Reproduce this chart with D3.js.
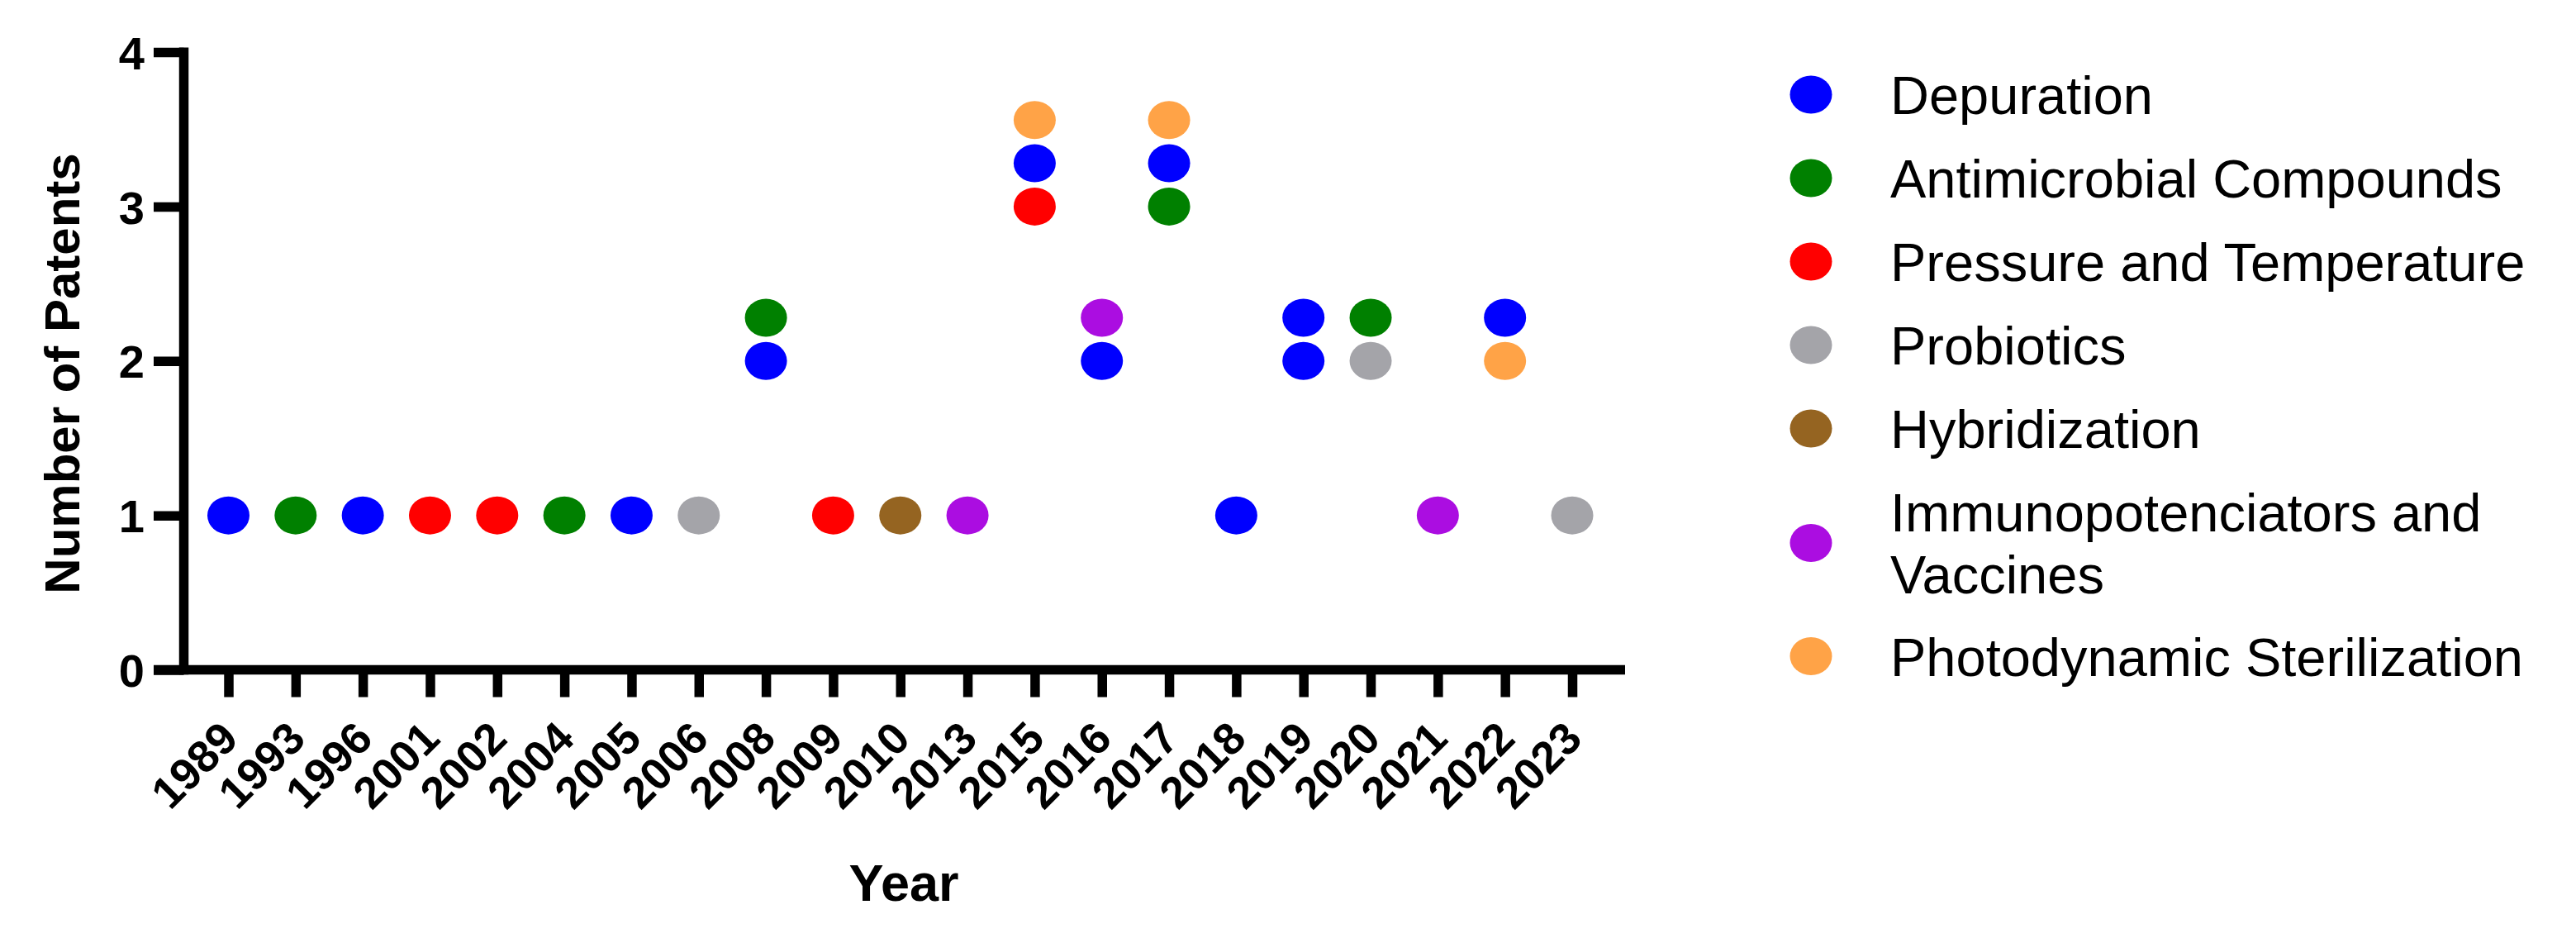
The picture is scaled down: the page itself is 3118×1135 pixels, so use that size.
<!DOCTYPE html>
<html>
<head>
<meta charset="utf-8">
<script src="https://cdn.jsdelivr.net/npm/d3@7"></script>
<style>
  html, body { margin: 0; padding: 0; background: #ffffff; }
  svg { display: block; }
  text { font-family: "Liberation Sans", Arial, Helvetica, sans-serif; fill: #000; }
</style>
</head>
<body>
<svg id="chart" width="3118" height="1135"></svg>
<script>
// ---- Data ----
const years = ["1989","1993","1996","2001","2002","2004","2005","2006","2008","2009","2010",
               "2013","2015","2016","2017","2018","2019","2020","2021","2022","2023"];
const yTicks = [0, 1, 2, 3, 4];

const seriesNames = ["Depuration", "Antimicrobial Compounds", "Pressure and Temperature",
                     "Probiotics", "Hybridization", "Immunopotenciators and Vaccines",
                     "Photodynamic Sterilization"];
const seriesColors = ["#0000ff", "#008000", "#ff0000", "#a4a4a9", "#956421", "#ab0de1", "#ffa347"];

// plotted positions (stacked dots are offset upward in the original figure)
const depurationYears   = ["1989","1996","2005","2008","2015","2016","2017","2018","2019","2019","2022"];
const depurationValues  = [1, 1, 1, 2, 3.28, 2, 3.28, 1, 2, 2.28, 2.28];
const antimicrobialYears  = ["1993","2004","2008","2017","2020"];
const antimicrobialValues = [1, 1, 2.28, 3, 2.28];
const pressureYears  = ["2001","2002","2009","2015"];
const pressureValues = [1, 1, 1, 3];
const probioticsYears  = ["2006","2020","2023"];
const probioticsValues = [1, 2, 1];
const hybridizationYears  = ["2010"];
const hybridizationValues = [1];
const immunoYears  = ["2013","2016","2021"];
const immunoValues = [1, 2.28, 1];
const photodynamicYears  = ["2015","2017","2022"];
const photodynamicValues = [3.56, 3.56, 2];

const seriesYears  = [depurationYears, antimicrobialYears, pressureYears, probioticsYears,
                      hybridizationYears, immunoYears, photodynamicYears];
const seriesValues = [depurationValues, antimicrobialValues, pressureValues, probioticsValues,
                      hybridizationValues, immunoValues, photodynamicValues];

// ---- Layout ----
const svg = d3.select("#chart");
const axisX = 222.5, axisY = 810.5, axisRight = 1967, axisLeftExt = 186, axisTop = 57.5;
const lw = 11.5;

const x = d3.scalePoint().domain(years).range([276.5, 1903]);
const y = d3.scaleLinear().domain([0, 4]).range([810.5, 63]);

svg.append("rect").attr("width", 3118).attr("height", 1135).attr("fill", "#fff");

// points
const pts = [];
seriesYears.forEach((ys, i) => ys.forEach((yr, j) => pts.push({s: i, year: yr, v: seriesValues[i][j]})));
svg.append("g").selectAll("ellipse").data(pts).join("ellipse")
  .attr("cx", d => x(d.year)).attr("cy", d => y(d.v))
  .attr("rx", 25.5).attr("ry", 23)
  .attr("fill", d => seriesColors[d.s]);

// Y axis
const gy = svg.append("g").attr("transform", `translate(${axisX},0)`)
  .call(d3.axisLeft(y).tickValues(yTicks).tickFormat(d3.format("d")).tickSize(axisX - axisLeftExt).tickPadding(11));
gy.select(".domain").remove();
gy.selectAll(".tick line").attr("stroke", "#000").attr("stroke-width", lw);
gy.selectAll(".tick text").attr("font-size", 56).attr("font-weight", "bold")
  .attr("font-family", "'Liberation Sans', Arial, sans-serif").attr("dy", "0.36em");

// X axis
const gx = svg.append("g").attr("transform", `translate(0,${axisY})`)
  .call(d3.axisBottom(x).tickSize(33).tickSizeOuter(0));
gx.select(".domain").remove();
gx.selectAll(".tick line").attr("stroke", "#000").attr("stroke-width", lw);
gx.selectAll(".tick text")
  .attr("font-size", 54).attr("font-weight", "bold")
  .attr("font-family", "'Liberation Sans', Arial, sans-serif")
  .attr("text-anchor", "end").attr("x", 0).attr("y", 0).attr("dy", 0)
  .attr("transform", "translate(14,86) rotate(-45)");

// axis lines
svg.append("line").attr("x1", axisX).attr("x2", axisX).attr("y1", axisTop).attr("y2", axisY + lw / 2)
  .attr("stroke", "#000").attr("stroke-width", lw);
svg.append("line").attr("x1", axisLeftExt).attr("x2", axisRight).attr("y1", axisY).attr("y2", axisY)
  .attr("stroke", "#000").attr("stroke-width", lw);

// axis titles
svg.append("text").attr("transform", "translate(96,452) rotate(-90)")
  .attr("text-anchor", "middle").attr("font-size", 60).attr("font-weight", "bold")
  .text("Number of Patents");
svg.append("text").attr("x", 1094).attr("y", 1090)
  .attr("text-anchor", "middle").attr("font-size", 63).attr("font-weight", "bold")
  .text("Year");

// legend
const legendRows = [114.5, 215.5, 316.5, 417.5, 518.5, 657, 794];
const legendLines = [["Depuration"], ["Antimicrobial Compounds"], ["Pressure and Temperature"],
                     ["Probiotics"], ["Hybridization"], ["Immunopotenciators and", "Vaccines"],
                     ["Photodynamic Sterilization"]];
const lg = svg.append("g");
seriesNames.forEach((name, i) => {
  lg.append("ellipse").attr("cx", 2192).attr("cy", legendRows[i]).attr("rx", 25.5).attr("ry", 23)
    .attr("fill", seriesColors[i]);
  const lines = legendLines[i];
  const lh = 74.5;
  const first = legendRows[i] - (lines.length - 1) * lh / 2;
  const t = lg.append("text").attr("font-size", 65);
  lines.forEach((ln, k) => {
    t.append("tspan").attr("x", 2288).attr("y", first + k * lh + 23.5).text(ln);
  });
});
</script>
</body>
</html>
